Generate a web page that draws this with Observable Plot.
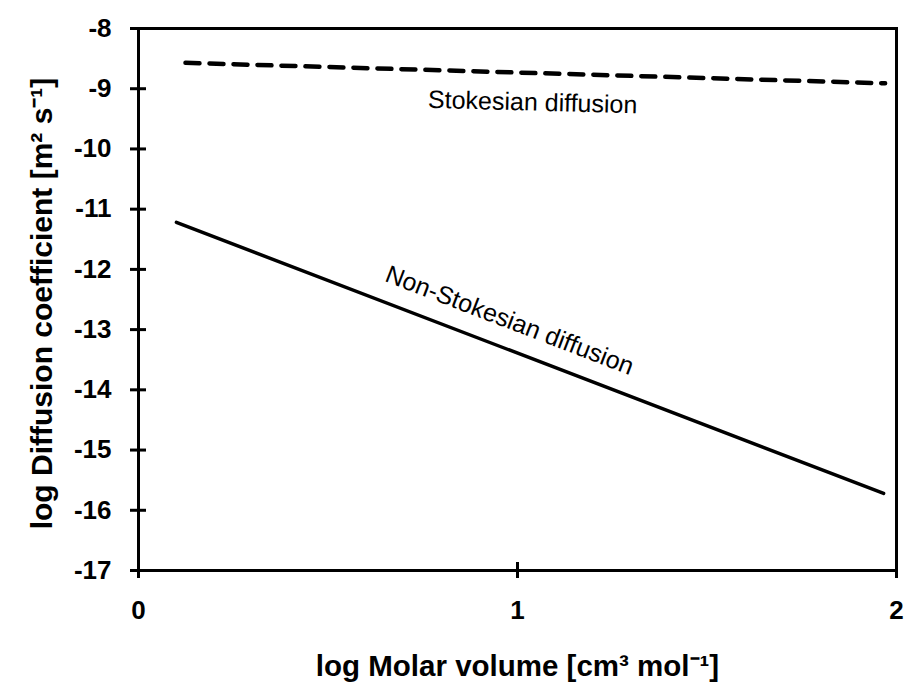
<!DOCTYPE html>
<html>
<head>
<meta charset="utf-8">
<script src="https://cdn.jsdelivr.net/npm/d3@7"></script>
<script src="https://cdn.jsdelivr.net/npm/@observablehq/plot@0.6"></script>
<style>
  html, body { margin: 0; padding: 0; background: #fff; }
</style>
</head>
<body>
<div id="chart"></div>
<script>
// ---- data ----
const xTicks = [0, 1, 2];
const yTicks = [-8, -9, -10, -11, -12, -13, -14, -15, -16, -17];

// Stokesian diffusion (dashed)
const stokesX = [0.124, 1.97];
const stokesY = [-8.57, -8.91];

// Non-Stokesian diffusion (solid)
const nonStokesX = [0.1, 1.966];
const nonStokesY = [-11.22, -15.72];

// annotation labels
const labelText = ["Stokesian diffusion", "Non-Stokesian diffusion"];
const labelX = [1.04, 0.979];
const labelY = [-9.23, -12.85];

const xTitle = "log Molar volume [cm³ mol⁻¹]";
const yTitle = "log Diffusion coefficient [m² s⁻¹]";

const stokes = stokesX.map((x, i) => ({x, y: stokesY[i]}));
const nonStokes = nonStokesX.map((x, i) => ({x, y: nonStokesY[i]}));

const font = "'Liberation Sans', Arial, Helvetica, sans-serif";

const chart = Plot.plot({
  width: 904,
  height: 682,
  marginLeft: 138,
  marginTop: 28,
  marginRight: 8,
  marginBottom: 112,
  style: {fontFamily: font, background: "white", color: "black"},
  x: {domain: [0, 2], label: null},
  y: {domain: [-17, -8], label: null},
  marks: [
    Plot.axisX({ticks: xTicks, tickFormat: d => String(d), tickSize: 16, dy: -8, tickPadding: 22,
      fontSize: 26, fontWeight: "bold", strokeWidth: 3, label: null}),
    Plot.axisY({ticks: yTicks, tickFormat: d => String(d), tickSize: 16, dx: 8, tickPadding: 19,
      fontSize: 26, fontWeight: "bold", strokeWidth: 3, label: null}),
    Plot.frame({stroke: "black", strokeWidth: 3}),
    Plot.line(stokes, {x: "x", y: "y", stroke: "black", strokeWidth: 4.5,
      strokeDasharray: "14,10", strokeLinecap: "round"}),
    Plot.line(nonStokes, {x: "x", y: "y", stroke: "black", strokeWidth: 3.5}),
    Plot.text([labelText[0]], {x: labelX[0], y: labelY[0], text: d => d, rotate: 1.5,
      fontSize: 25, fill: "black", textAnchor: "middle", lineAnchor: "middle"}),
    Plot.text([labelText[1]], {x: labelX[1], y: labelY[1], text: d => d, rotate: 21,
      fontSize: 25, fill: "black", textAnchor: "middle", lineAnchor: "middle"}),
    Plot.text([xTitle], {frameAnchor: "bottom", dy: 96, text: d => d,
      fontSize: 29.5, fontWeight: "bold", fill: "black", textAnchor: "middle", lineAnchor: "middle"}),
    Plot.text([yTitle], {frameAnchor: "left", dx: -96, dy: 4, text: d => d, rotate: -90,
      fontSize: 30, fontWeight: "bold", fill: "black", textAnchor: "middle", lineAnchor: "middle"})
  ]
});

document.getElementById("chart").appendChild(chart);
</script>
</body>
</html>
